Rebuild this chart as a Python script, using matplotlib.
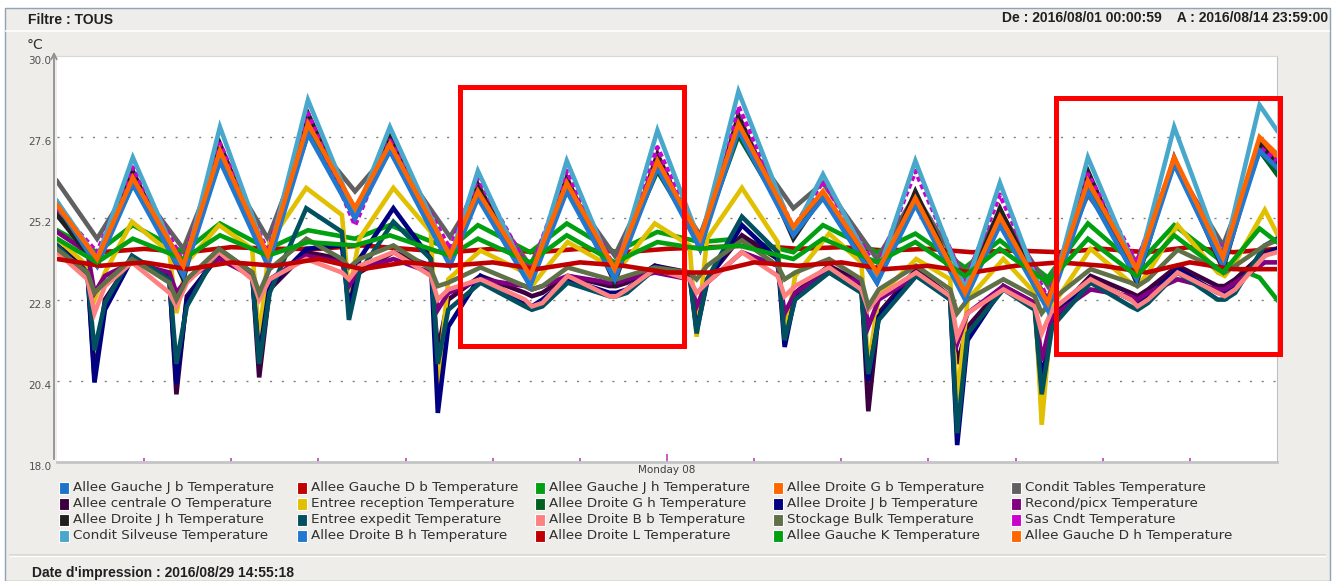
import matplotlib
matplotlib.use("Agg")
import matplotlib.pyplot as plt
from matplotlib.patches import Rectangle
from matplotlib.lines import Line2D

W, H = 1336, 581

# time axis: days since 2016/08/01 00:00
T_HIGH = [0.0, 0.46, 0.87, 1.45, 1.87, 2.42, 2.88, 3.42, 3.82, 4.51, 4.83, 5.43, 5.85, 6.40, 6.89,
          7.38, 7.82, 8.45, 8.79, 9.41, 9.85, 10.42, 10.82, 11.37, 11.83, 12.39, 12.82, 13.38, 13.80, 14.0]
T_LOW = [0.0,
         0.35, 0.43, 0.55, 0.86,
         1.29, 1.37, 1.49, 1.86,
         2.24, 2.32, 2.44, 2.86,
         3.27, 3.35, 3.47, 3.86,
         4.29, 4.37, 4.49, 4.86,
         5.37, 5.45, 5.57, 5.86,
         6.34, 6.42, 6.54, 6.86,
         7.26, 7.34, 7.46, 7.86,
         8.27, 8.35, 8.47, 8.86,
         9.23, 9.31, 9.43, 9.86,
         10.25, 10.33, 10.45, 10.86,
         11.22, 11.30, 11.42, 11.86,
         12.32, 12.40, 12.52, 12.86,
         13.32, 13.40, 13.52, 13.86,
         14.0]
T_FLAT = [0.0, 0.5, 1.0, 1.5, 2.0, 2.5, 3.0, 3.5, 4.0, 4.5, 5.0, 5.5, 6.0, 6.5, 7.0,
          7.5, 8.0, 8.5, 9.0, 9.5, 10.0, 10.5, 11.0, 11.5, 12.0, 12.5, 13.0, 13.5, 14.0]

# upper group (on T_HIGH)
gauche_j_b = [25.7, 23.9, 26.3, 23.6, 27.0, 23.9, 27.8, 25.3, 27.3, 23.9, 25.9, 23.3, 26.1, 23.5, 26.8,
              24.4, 27.9, 24.8, 25.9, 23.4, 25.7, 22.9, 25.1, 22.6, 26.1, 23.5, 26.9, 23.9, 27.3, 26.9]
droite_g_b = [25.5, 23.9, 26.3, 23.7, 27.1, 24.0, 27.9, 25.4, 27.3, 24.0, 25.9, 23.4, 26.2, 23.6, 26.8,
              24.5, 27.9, 24.9, 25.9, 23.5, 25.7, 22.9, 25.2, 22.6, 26.2, 23.6, 26.9, 24.0, 27.5, 27.0]
condit_tables = [26.3, 24.6, 26.3, 24.3, 27.0, 24.6, 27.7, 26.0, 27.2, 24.65, 26.0, 23.8, 26.1, 24.1, 26.7,
                 24.7, 27.8, 25.5, 26.25, 24.0, 25.9, 23.5, 25.4, 23.2, 25.9, 23.9, 26.8, 24.4, 27.2, 26.6]
droite_g_h = [25.3, 24.0, 26.2, 23.8, 26.9, 24.1, 27.7, 25.5, 27.2, 24.1, 25.9, 23.5, 26.1, 23.7, 26.6,
              24.5, 27.65, 24.9, 25.8, 23.6, 25.6, 23.1, 25.0, 22.8, 26.0, 23.7, 26.8, 24.1, 27.2, 26.5]
droite_j_h = [25.3, 23.8, 26.6, 23.4, 27.4, 23.9, 28.3, 25.2, 27.6, 23.9, 26.2, 23.3, 26.4, 23.3, 27.1,
              24.3, 28.25, 24.6, 25.9, 23.3, 26.0, 22.9, 25.5, 22.6, 26.6, 23.3, 27.0, 23.7, 27.4, 26.8]
sas_cndt = [25.5, 24.2, 26.7, 23.9, 27.4, 24.2, 28.3, 25.0, 27.5, 24.3, 26.4, 23.6, 26.6, 23.7, 27.3,
            24.5, 28.5, 24.9, 26.3, 23.7, 26.6, 23.3, 25.9, 22.8, 26.5, 23.9, 26.9, 24.2, 27.3, 26.9]
condit_silveuse = [25.7, 24.0, 27.0, 23.6, 27.9, 24.0, 28.7, 25.3, 27.9, 24.0, 26.6, 23.3, 26.9, 23.5, 27.8,
                   24.5, 28.95, 24.8, 26.5, 23.5, 26.9, 23.1, 26.25, 22.5, 27.0, 23.6, 27.9, 24.0, 28.55, 27.8]
droite_b_h = [25.6, 23.8, 26.2, 23.5, 26.9, 23.8, 27.7, 25.2, 27.2, 23.8, 25.8, 23.2, 26.0, 23.4, 26.7,
              24.3, 27.8, 24.7, 25.8, 23.3, 25.6, 22.8, 25.0, 22.5, 26.0, 23.4, 26.8, 23.8, 27.2, 26.7]
gauche_d_h = [25.6, 24.0, 26.4, 23.8, 27.2, 24.1, 28.0, 25.5, 27.4, 24.1, 26.0, 23.5, 26.25, 23.7, 26.9,
              24.6, 28.0, 24.95, 26.0, 23.6, 25.8, 23.0, 25.25, 22.7, 26.3, 23.7, 27.0, 24.05, 27.6, 27.1]
gauche_j_h = [24.85, 24.2, 25.0, 24.2, 25.05, 24.3, 24.85, 24.6, 25.0, 24.3, 25.0, 24.2, 25.05, 24.2, 24.8,
              24.5, 24.6, 24.2, 25.0, 24.2, 24.75, 23.75, 24.55, 23.45, 25.05, 23.8, 25.0, 23.9, 23.45, 22.8]
gauche_k = [24.6, 23.9, 24.6, 24.0, 24.7, 24.1, 24.5, 24.4, 24.7, 24.1, 24.6, 23.9, 24.7, 23.9, 24.5,
            24.3, 24.4, 24.0, 24.6, 23.9, 24.5, 23.5, 24.3, 23.3, 24.6, 23.5, 24.7, 23.6, 24.9, 24.5]

# lower group (on T_LOW), per day: before dip, dip, after dip, hump
centrale_o = [24.4,
              23.7, 20.5, 22.8, 24.0, 23.5, 20.0, 22.9, 24.1, 23.6, 20.5, 23.1, 24.2, 24.0, 23.0, 23.6, 24.2,
              23.8, 21.3, 22.8, 23.5, 23.0, 22.9, 23.0, 23.5, 23.2, 23.2, 23.3, 23.8, 23.6, 22.0, 23.4, 24.7,
              24.0, 21.9, 23.0, 23.8, 23.3, 19.5, 22.4, 23.7, 22.9, 20.9, 22.0, 23.2, 22.7, 19.75, 22.3, 23.5,
              23.0, 22.9, 23.1, 23.8, 23.2, 23.2, 23.4, 24.2,
              24.3]
entree_reception = [24.6,
                    23.8, 22.8, 23.6, 25.1, 24.2, 22.4, 23.9, 25.0, 24.3, 21.6, 24.5, 26.1, 25.3, 23.0, 24.6, 26.1,
                    24.8, 20.2, 23.4, 24.25, 23.6, 23.2, 23.6, 24.5, 23.8, 23.6, 24.0, 25.05, 24.4, 21.7, 24.6, 26.1,
                    24.5, 21.6, 23.5, 24.75, 23.9, 20.8, 22.9, 24.0, 23.4, 19.8, 22.8, 24.0, 23.0, 19.1, 22.6, 24.3,
                    23.3, 23.2, 23.6, 25.0, 23.6, 23.5, 23.9, 25.45,
                    24.75]
droite_j_b = [24.4,
              23.6, 20.35, 22.5, 24.0, 23.4, 20.3, 22.8, 24.2, 23.5, 21.1, 23.2, 24.3, 24.4, 22.5, 24.0, 25.5,
              24.0, 19.45, 22.0, 23.5, 22.7, 22.6, 22.8, 23.4, 23.0, 23.0, 23.1, 23.8, 23.5, 21.9, 23.3, 25.0,
              24.0, 21.4, 22.9, 23.7, 23.2, 20.4, 22.3, 23.6, 22.8, 18.5, 21.6, 23.2, 22.6, 20.4, 22.2, 23.4,
              22.8, 22.7, 22.9, 23.7, 23.0, 23.0, 23.2, 24.1,
              24.3]
recond_picx = [24.8,
               24.2, 23.0, 23.5, 23.9, 23.6, 23.0, 23.4, 24.0, 23.5, 22.9, 23.4, 24.1, 23.9, 23.2, 23.7, 24.0,
               23.6, 22.5, 23.0, 23.4, 23.2, 23.1, 23.2, 23.5, 23.3, 23.3, 23.4, 23.6, 23.4, 22.6, 23.3, 24.2,
               23.8, 22.4, 23.0, 23.6, 23.3, 22.0, 22.8, 23.5, 22.9, 21.5, 22.4, 23.2, 22.7, 21.0, 22.3, 23.1,
               22.9, 22.8, 23.0, 23.4, 23.1, 23.1, 23.3, 23.9,
               23.9]
entree_expedit = [24.4,
                  23.5, 21.3, 22.7, 24.1, 23.4, 20.9, 22.6, 24.3, 23.6, 20.9, 23.0, 25.5, 24.8, 22.2, 23.6, 25.1,
                  24.0, 20.9, 22.5, 23.3, 22.6, 22.5, 22.6, 23.3, 22.9, 22.9, 23.0, 23.7, 23.5, 21.8, 23.4, 25.25,
                  24.2, 21.6, 22.8, 23.6, 23.0, 20.6, 22.2, 23.5, 22.8, 18.85, 21.8, 23.1, 22.5, 20.0, 22.0, 23.3,
                  22.6, 22.5, 22.7, 23.6, 22.8, 22.8, 23.0, 24.4,
                  24.6]
droite_b_b = [24.2,
              23.4, 22.4, 23.2, 23.9, 23.0, 22.6, 23.3, 24.2, 23.4, 22.8, 23.4, 24.0, 23.6, 23.4, 23.8, 24.2,
              23.5, 22.8, 23.1, 23.4, 22.8, 22.6, 22.7, 23.5, 22.9, 22.9, 23.1, 23.7, 23.4, 23.0, 23.3, 24.2,
              23.5, 22.9, 23.2, 23.75, 23.1, 22.5, 22.9, 23.6, 22.9, 21.7, 22.4, 23.1, 22.6, 21.8, 22.5, 23.4,
              22.8, 22.6, 22.8, 23.6, 23.0, 22.9, 23.1, 24.1,
              24.2]
stockage_bulk = [24.3,
                 23.6, 23.0, 23.3, 24.0, 23.3, 22.8, 23.4, 24.3, 23.6, 23.0, 23.7, 24.6, 24.0, 23.75, 24.0, 24.4,
                 23.7, 23.2, 23.3, 23.75, 23.2, 23.1, 23.2, 23.75, 23.4, 23.4, 23.5, 23.75, 23.6, 23.4, 23.8, 24.55,
                 23.8, 23.4, 23.6, 24.0, 23.4, 22.6, 23.1, 23.8, 23.1, 22.4, 22.8, 23.4, 22.9, 22.4, 22.8, 23.7,
                 23.3, 23.2, 23.4, 24.27, 23.7, 23.6, 23.8, 24.4,
                 24.55]

# flat red lines (on T_FLAT)
gauche_d_b = [24.3, 24.2, 24.3, 24.2, 24.35, 24.3, 24.3, 24.4, 24.3, 24.2, 24.3, 24.2, 24.3, 24.2, 24.3,
              24.35, 24.4, 24.3, 24.35, 24.25, 24.3, 24.2, 24.25, 24.2, 24.3, 24.2, 24.35, 24.2, 24.3]
droite_l = [24.0, 23.8, 23.9, 23.7, 23.9, 23.8, 24.0, 23.7, 23.9, 23.8, 23.9, 23.7, 23.9, 23.8, 23.6,
            23.6, 23.9, 23.8, 23.9, 23.7, 23.8, 23.6, 23.8, 23.9, 23.8, 23.6, 23.9, 23.7, 23.7]

# legend order (row by row), drawing order too
SERIES = [
    ("Allee Gauche J b Temperature", "#1c74c8", T_HIGH, gauche_j_b),
    ("Allee Gauche D b Temperature", "#c00000", T_FLAT, gauche_d_b),
    ("Allee Gauche J h Temperature", "#00a010", T_HIGH, gauche_j_h),
    ("Allee Droite G b Temperature", "#ff6600", T_HIGH, droite_g_b),
    ("Condit Tables Temperature", "#606060", T_HIGH, condit_tables),
    ("Allee centrale O Temperature", "#3c0040", T_LOW, centrale_o),
    ("Entree reception Temperature", "#e0c000", T_LOW, entree_reception),
    ("Allee Droite G h Temperature", "#006020", T_HIGH, droite_g_h),
    ("Allee Droite J b Temperature", "#000080", T_LOW, droite_j_b),
    ("Recond/picx Temperature", "#800080", T_LOW, recond_picx),
    ("Allee Droite J h Temperature", "#202020", T_HIGH, droite_j_h),
    ("Entree expedit Temperature", "#005060", T_LOW, entree_expedit),
    ("Allee Droite B b Temperature", "#ff8080", T_LOW, droite_b_b),
    ("Stockage Bulk Temperature", "#607048", T_LOW, stockage_bulk),
    ("Sas Cndt Temperature", "#cc00cc", T_HIGH, sas_cndt),
    ("Condit Silveuse Temperature", "#48a8cc", T_HIGH, condit_silveuse),
    ("Allee Droite B h Temperature", "#2078d0", T_HIGH, droite_b_h),
    ("Allee Droite L Temperature", "#c00000", T_FLAT, droite_l),
    ("Allee Gauche K Temperature", "#00a010", T_HIGH, gauche_k),
    ("Allee Gauche D h Temperature", "#ff6600", T_HIGH, gauche_d_h),
]

Y_TICKS = [18.0, 20.4, 22.8, 25.2, 27.6, 30.0]
DAY_TICKS = [1, 2, 3, 4, 5, 6, 7, 8, 9, 10, 11, 12, 13]
# red highlight boxes (t0, t1, y0, y1)
BOXES = [(4.62, 7.20, 21.44, 29.07), (11.46, 14.04, 21.18, 28.77)]

BG = "#efede9"


def fx(x):
    return x / W


def fy(y):
    return 1 - y / H


def main():
    fig = plt.figure(figsize=(W / 100, H / 100), dpi=100)
    fig.patch.set_facecolor("white")

    # panel frame
    fig.add_artist(Rectangle((fx(5), 0), fx(1325), fy(8), transform=fig.transFigure,
                             fc=BG, ec="#8ea3b8", lw=1, zorder=0))
    fig.add_artist(Line2D([fx(6), fx(1329)], [fy(31), fy(31)], color="white", lw=1.2))
    fig.add_artist(Line2D([fx(10), fx(1325)], [fy(555), fy(555)], color="#d8d6d0", lw=1.2))
    fig.add_artist(Line2D([fx(10), fx(1325)], [fy(556), fy(556)], color="white", lw=1))

    fig.text(fx(28), fy(20), "Filtre : TOUS", fontsize=10, weight="bold",
             family="Liberation Sans", va="center", color="#202020")
    fig.text(fx(1328), fy(18), "De : 2016/08/01 00:00:59    A : 2016/08/14 23:59:00", fontsize=10,
             weight="bold", family="Liberation Sans", va="center", ha="right", color="#202020")
    fig.text(fx(27), fy(45), "°C", fontsize=10, va="center", color="#303030")
    fig.text(fx(32), fy(573), "Date d'impression : 2016/08/29 14:55:18", fontsize=10, weight="bold",
             family="Liberation Sans", va="center", color="#202020")

    ax = fig.add_axes([fx(57), fy(462), 1220 / W, 406 / H])
    ax.set_facecolor("white")

    for i, (name, color, t, v) in enumerate(SERIES):
        ls = (0, (1.1, 0.7)) if name.startswith("Sas") else "-"
        ax.plot(t, v, color=color, lw=3.3, ls=ls, solid_joinstyle="miter", zorder=3 + i)

    for y in Y_TICKS[1:-1]:
        ax.axhline(y, color="#808080", lw=1, ls=(0, (1.5, 7)), zorder=1)

    for (t0, t1, y0, y1) in BOXES:
        ax.add_patch(Rectangle((t0, y0), t1 - t0, y1 - y0, fill=False, ec="#ff0000",
                               lw=3.6, clip_on=False, zorder=60))

    ax.set_xlim(0, 14)
    ax.set_ylim(18, 30)

    ax.set_yticks(Y_TICKS)
    ax.set_yticklabels(["%.1f" % y for y in Y_TICKS])
    ax.tick_params(axis="y", length=0, pad=4, labelsize=7.5, labelcolor="#505050")
    for lbl in ax.get_yticklabels():
        lbl.set_va("top")

    ax.set_xticks(DAY_TICKS)
    ax.set_xticklabels(["Monday 08" if d == 7 else "" for d in DAY_TICKS])
    ax.tick_params(axis="x", direction="in", length=3, width=1.2, color="#c040c0",
                   pad=2, labelsize=7.5, labelcolor="#404040")
    for d, tk in zip(DAY_TICKS, ax.xaxis.get_major_ticks()):
        if d == 7:
            tk.tick1line.set_color("#a0a0a0")
            tk.tick1line.set_markersize(6)

    ax.spines["left"].set_visible(False)
    ax.spines["top"].set_color("#d8d8d8")
    ax.spines["right"].set_color("#c0c0c0")
    ax.spines["bottom"].set_color("#c4c4c4")
    ax.spines["bottom"].set_linewidth(2)

    # y axis line with arrow
    ax.annotate("", xy=(-3 / 1220, 1 + 7 / 406), xytext=(-3 / 1220, 0), xycoords="axes fraction",
                arrowprops=dict(arrowstyle="->", color="#909090", lw=1.3), annotation_clip=False)

    # legend, 5 columns, row by row
    col_x = [62, 300, 538, 776, 1014]
    row_y = [488, 504, 520, 536]
    for i, (name, color, t, v) in enumerate(SERIES):
        x = col_x[i % 5]
        y = row_y[i // 5]
        fig.add_artist(Rectangle((fx(x - 3), fy(y + 6)), 10 / W, 12 / H, transform=fig.transFigure,
                                 fc=color, ec="white", lw=0.8))
        fig.text(fx(x + 11), fy(y), name, fontsize=9.7, va="center", color="#303030")

    fig.savefig("out.png", dpi=100)


if __name__ == "__main__":
    main()
